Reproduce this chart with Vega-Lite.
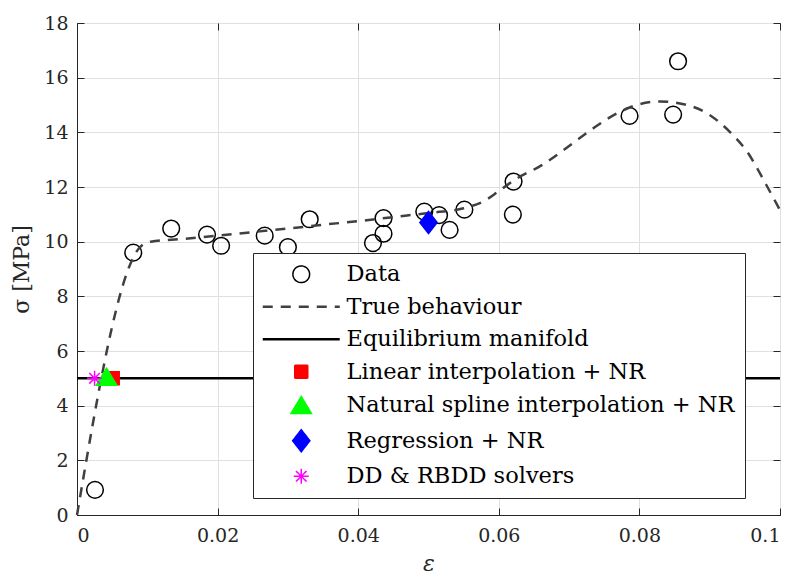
{
  "$schema": "https://vega.github.io/schema/vega-lite/v6.json",
  "autosize": {"type": "none"},
  "width": 703,
  "height": 492,
  "padding": {"left": 77, "top": 23, "right": 18, "bottom": 61},
  "background": "white",
  "datasets": {
    "pts": [
      {"series": "Data", "eps": 0.00256, "sigma": 0.92},
      {"series": "Data", "eps": 0.0080, "sigma": 9.6},
      {"series": "Data", "eps": 0.0134, "sigma": 10.48},
      {"series": "Data", "eps": 0.0185, "sigma": 10.26},
      {"series": "Data", "eps": 0.0205, "sigma": 9.85},
      {"series": "Data", "eps": 0.0267, "sigma": 10.22},
      {"series": "Data", "eps": 0.0300, "sigma": 9.8},
      {"series": "Data", "eps": 0.0331, "sigma": 10.82},
      {"series": "Data", "eps": 0.0421, "sigma": 9.95},
      {"series": "Data", "eps": 0.0436, "sigma": 10.29},
      {"series": "Data", "eps": 0.0436, "sigma": 10.86},
      {"series": "Data", "eps": 0.0494, "sigma": 11.1},
      {"series": "Data", "eps": 0.0515, "sigma": 10.97},
      {"series": "Data", "eps": 0.0530, "sigma": 10.43},
      {"series": "Data", "eps": 0.0551, "sigma": 11.17},
      {"series": "Data", "eps": 0.0621, "sigma": 12.2},
      {"series": "Data", "eps": 0.0620, "sigma": 10.99},
      {"series": "Data", "eps": 0.0786, "sigma": 14.6},
      {"series": "Data", "eps": 0.0848, "sigma": 14.65},
      {"series": "Data", "eps": 0.0855, "sigma": 16.6},
      {"series": "Linear interpolation + NR", "eps": 0.00508, "sigma": 5.0},
      {"series": "Natural spline interpolation + NR", "eps": 0.0042, "sigma": 5.05},
      {"series": "Regression + NR", "eps": 0.0500, "sigma": 10.7},
      {"series": "DD & RBDD solvers", "eps": 0.0025, "sigma": 5.0}
    ],
    "curve": [
      {"eps": 0.0, "sigma": 0.0},
      {"eps": 0.0088, "sigma": 9.75},
      {"eps": 0.0095, "sigma": 9.92},
      {"eps": 0.0105, "sigma": 10.0},
      {"eps": 0.015, "sigma": 10.1},
      {"eps": 0.02, "sigma": 10.22},
      {"eps": 0.025, "sigma": 10.35},
      {"eps": 0.03, "sigma": 10.48},
      {"eps": 0.035, "sigma": 10.62},
      {"eps": 0.04, "sigma": 10.75},
      {"eps": 0.045, "sigma": 10.9},
      {"eps": 0.05, "sigma": 11.05},
      {"eps": 0.055, "sigma": 11.22},
      {"eps": 0.058, "sigma": 11.5},
      {"eps": 0.06, "sigma": 11.85},
      {"eps": 0.0625, "sigma": 12.3},
      {"eps": 0.066, "sigma": 12.78},
      {"eps": 0.07, "sigma": 13.5},
      {"eps": 0.0735, "sigma": 14.16},
      {"eps": 0.077, "sigma": 14.72},
      {"eps": 0.08, "sigma": 15.03},
      {"eps": 0.083, "sigma": 15.13},
      {"eps": 0.0863, "sigma": 15.03},
      {"eps": 0.0896, "sigma": 14.7},
      {"eps": 0.093, "sigma": 13.98},
      {"eps": 0.0953, "sigma": 13.3},
      {"eps": 0.098, "sigma": 12.1},
      {"eps": 0.1, "sigma": 11.15}
    ],
    "eq": [
      {"eps": 0.0, "sigma": 5.0},
      {"eps": 0.1, "sigma": 5.0}
    ]
  },
  "resolve": {"axis": {"x": "independent", "y": "independent"}},
  "layer": [
    {
      "data": {"name": "pts"},
      "transform": [{"filter": "datum.series === 'Data'"}],
      "mark": {"type": "point", "opacity": 1, "strokeWidth": 1.5, "size": 100},
      "encoding": {
        "x": {"field": "eps", "type": "quantitative",
              "scale": {"domain": [0, 0.1], "nice": false, "zero": false},
              "axis": {"orient": "bottom", "title": "ε", "ticks": false, "values": [0, 0.02, 0.04, 0.06, 0.08, 0.1], "format": "~g"}},
        "y": {"field": "sigma", "type": "quantitative",
              "scale": {"domain": [0, 18], "nice": false},
              "axis": {"orient": "left", "title": "σ [MPa]", "ticks": false, "values": [0, 2, 4, 6, 8, 10, 12, 14, 16, 18], "titleFontStyle": "normal"}},
        "shape": {"field": "series", "type": "nominal",
          "legend": {"title": null, "encode": {"symbols": {"update": {
            "strokeDash": {"signal": "datum.value === 'True behaviour' ? [10, 8] : [1, 0]"},
            "strokeWidth": {"signal": "(datum.value === 'True behaviour' || datum.value === 'Equilibrium manifold') ? 2.5 : 1.5"}}}}},
          "scale": {
            "domain": ["Data", "True behaviour", "Equilibrium manifold", "Linear interpolation + NR", "Natural spline interpolation + NR", "Regression + NR", "DD & RBDD solvers"],
            "range": [
              "M-1.67,0A1.67,1.67,0,1,1,1.67,0A1.67,1.67,0,1,1,-1.67,0Z",
              "M-7.7,0H7.7",
              "M-7.7,0H7.7",
              "M-1.3,-1.3H1.3V1.3H-1.3Z",
              "M0,-1.75L2.05,1.65H-2.05Z",
              "M0,-2.2L1.73,0L0,2.2L-1.73,0Z",
              "M0,-1.5V1.5M-1.5,0H1.5M-1.06,-1.06L1.06,1.06M-1.06,1.06L1.06,-1.06"
            ]}},
        "stroke": {"field": "series", "type": "nominal",
          "legend": {"title": null, "encode": {"symbols": {"update": {
            "strokeDash": {"signal": "datum.value === 'True behaviour' ? [10, 8] : [1, 0]"},
            "strokeWidth": {"signal": "(datum.value === 'True behaviour' || datum.value === 'Equilibrium manifold') ? 2.5 : 1.5"}}}}},
          "scale": {
            "domain": ["Data", "True behaviour", "Equilibrium manifold", "Linear interpolation + NR", "Natural spline interpolation + NR", "Regression + NR", "DD & RBDD solvers"],
            "range": ["black", "#404040", "black", "red", "#00ff00", "blue", "magenta"]}},
        "fill": {"field": "series", "type": "nominal",
          "legend": {"title": null, "encode": {"symbols": {"update": {
            "strokeDash": {"signal": "datum.value === 'True behaviour' ? [10, 8] : [1, 0]"},
            "strokeWidth": {"signal": "(datum.value === 'True behaviour' || datum.value === 'Equilibrium manifold') ? 2.5 : 1.5"}}}}},
          "scale": {
            "domain": ["Data", "True behaviour", "Equilibrium manifold", "Linear interpolation + NR", "Natural spline interpolation + NR", "Regression + NR", "DD & RBDD solvers"],
            "range": ["transparent", "transparent", "transparent", "red", "#00ff00", "blue", "transparent"]}}
      }
    },
    {
      "data": {"name": "curve"},
      "mark": {"type": "line", "interpolate": "monotone", "color": "#404040", "strokeWidth": 2.5, "strokeDash": [10, 8]},
      "encoding": {
        "x": {"field": "eps", "type": "quantitative",
              "axis": {"orient": "bottom", "title": null, "labels": false, "grid": false, "domain": false, "offset": -7, "tickSize": 7, "values": [0, 0.02, 0.04, 0.06, 0.08, 0.1]}},
        "y": {"field": "sigma", "type": "quantitative",
              "axis": {"orient": "left", "title": null, "labels": false, "grid": false, "domain": false, "offset": -7, "tickSize": 7, "values": [0, 2, 4, 6, 8, 10, 12, 14, 16, 18]}}
      }
    },
    {
      "data": {"name": "eq"},
      "mark": {"type": "line", "color": "black", "strokeWidth": 2.5},
      "encoding": {
        "x": {"field": "eps", "type": "quantitative",
              "axis": {"orient": "top", "title": null, "labels": false, "grid": false, "domain": false, "offset": -7, "tickSize": 7, "values": [0, 0.02, 0.04, 0.06, 0.08, 0.1]}},
        "y": {"field": "sigma", "type": "quantitative",
              "axis": {"orient": "right", "title": null, "labels": false, "grid": false, "domain": false, "offset": -7, "tickSize": 7, "values": [0, 2, 4, 6, 8, 10, 12, 14, 16, 18]}}
      }
    },
    {
      "data": {"name": "pts"},
      "transform": [{"filter": "datum.series !== 'Data'"}],
      "mark": {"type": "point", "opacity": 1, "strokeWidth": 1.5, "size": 100},
      "encoding": {
        "x": {"field": "eps", "type": "quantitative", "axis": null},
        "y": {"field": "sigma", "type": "quantitative", "axis": null},
        "shape": {"field": "series", "type": "nominal",
          "legend": {"title": null, "encode": {"symbols": {"update": {
            "strokeDash": {"signal": "datum.value === 'True behaviour' ? [10, 8] : [1, 0]"},
            "strokeWidth": {"signal": "(datum.value === 'True behaviour' || datum.value === 'Equilibrium manifold') ? 2.5 : 1.5"}}}}}},
        "stroke": {"field": "series", "type": "nominal",
          "legend": {"title": null, "encode": {"symbols": {"update": {
            "strokeDash": {"signal": "datum.value === 'True behaviour' ? [10, 8] : [1, 0]"},
            "strokeWidth": {"signal": "(datum.value === 'True behaviour' || datum.value === 'Equilibrium manifold') ? 2.5 : 1.5"}}}}}},
        "fill": {"field": "series", "type": "nominal",
          "legend": {"title": null, "encode": {"symbols": {"update": {
            "strokeDash": {"signal": "datum.value === 'True behaviour' ? [10, 8] : [1, 0]"},
            "strokeWidth": {"signal": "(datum.value === 'True behaviour' || datum.value === 'Equilibrium manifold') ? 2.5 : 1.5"}}}}}}
      }
    }
  ],
  "config": {
    "view": {"stroke": "#262626", "strokeWidth": 1},
    "font": "DejaVu Serif",
    "axis": {
      "labelFont": "DejaVu Serif",
      "labelFontSize": 19,
      "labelColor": "#262626",
      "titleFont": "DejaVu Serif",
      "titleFontSize": 22,
      "titleFontWeight": "normal",
      "titleColor": "#262626",
      "domainColor": "#262626",
      "domainWidth": 1,
      "tickColor": "#262626",
      "tickWidth": 1,
      "gridColor": "#e0e0e0",
      "gridWidth": 1,
      "gridOpacity": 1
    },
    "axisX": {"labelPadding": 11, "titlePadding": 8, "titleFontStyle": "italic"},
    "axisY": {"labelPadding": 9, "titlePadding": 10, "labelAngle": 0},
    "legend": {
      "orient": "none",
      "legendX": 176,
      "legendY": 230,
      "padding": 10,
      "strokeColor": "#262626",
      "fillColor": "white",
      "labelFont": "DejaVu Serif",
      "labelFontSize": 22.5,
      "labelColor": "black",
      "labelLimit": 0,
      "symbolSize": 100,
      "symbolStrokeWidth": 1.5,
      "symbolOpacity": 1,
      "symbolOffset": 27,
      "labelOffset": 34,
      "rowPadding": 9.5
    }
  }
}
